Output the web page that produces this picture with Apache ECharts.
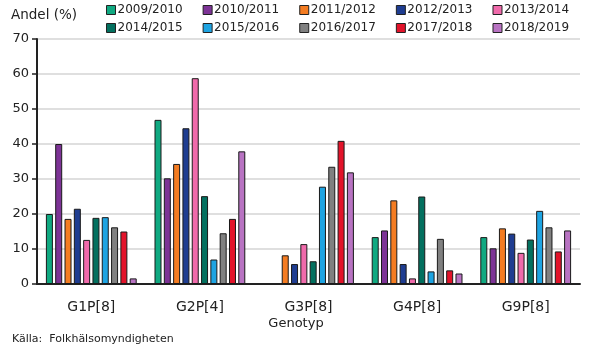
<!DOCTYPE html>
<html><head><meta charset="utf-8">
<script src="https://cdn.jsdelivr.net/npm/echarts@6/dist/echarts.min.js"></script>
<style>html,body{margin:0;padding:0;background:#fff}#c{width:590px;height:352px}</style>
</head><body><div id="c"></div>
<script>
const categories = ['G1P[8]','G2P[4]','G3P[8]','G4P[8]','G9P[8]'];
const seasons = ['2009/2010','2010/2011','2011/2012','2012/2013','2013/2014','2014/2015','2015/2016','2016/2017','2017/2018','2018/2019'];
const s2009 = [20, 46.9, null, 13.4, 13.4];
const s2010 = [40, 30.2, null, 15.3, 10.2];
const s2011 = [18.6, 34.3, 8.2, 23.9, 15.9];
const s2012 = [21.5, 44.5, 5.7, 5.7, 14.4];
const s2013 = [12.6, 58.8, 11.4, 1.6, 8.9];
const s2014 = [18.9, 25.1, 6.5, 25.0, 12.7];
const s2015 = [19.1, 7.0, 27.8, 3.6, 20.9];
const s2016 = [16.2, 14.5, 33.5, 12.9, 16.2];
const s2017 = [15.0, 18.6, 40.9, 3.9, 9.3];
const s2018 = [1.6, 37.9, 31.9, 3.0, 15.3];
const seriesValues = [s2009,s2010,s2011,s2012,s2013,s2014,s2015,s2016,s2017,s2018];
const colors = ['#10a981','#7d3396','#f47c22','#1f3d91','#f06aab','#03705f','#1ea4e2','#808080','#e2132a','#b873c2'];
const yTicks = [0,10,20,30,40,50,60,70];

const font = 'DejaVu Sans';
const legendBase = {
  itemWidth: 9, itemHeight: 9, itemGap: 20, icon: 'rect',
  padding: 0,
  itemStyle: {borderColor: '#222', borderWidth: 1},
  textStyle: {fontFamily: font, fontSize: 12, color: '#222', padding: [0,0,0,-3]}
};
const chart = echarts.init(document.getElementById('c'));
chart.setOption({
  animation: false,
  textStyle: {fontFamily: font},
  legend: [
    Object.assign({data: seasons.slice(0,5), left: 106, top: 4}, legendBase),
    Object.assign({data: seasons.slice(5), left: 106, top: 22}, legendBase)
  ],
  grid: {left: 37, right: 10, top: 39, bottom: 68},
  xAxis: {
    type: 'category', data: categories,
    axisLine: {lineStyle: {color: '#222', width: 2}},
    axisTick: {show: false},
    axisLabel: {fontFamily: font, fontSize: 14, color: '#222', margin: 16}
  },
  yAxis: {
    type: 'value', min: yTicks[0], max: yTicks[yTicks.length-1], interval: 10,
    axisLine: {show: true, lineStyle: {color: '#222', width: 2}},
    axisTick: {show: true, inside: false, length: 5, lineStyle: {color: '#222', width: 1.5}},
    axisLabel: {fontFamily: font, fontSize: 13, color: '#222', margin: 8},
    splitLine: {lineStyle: {color: '#d4d4d4', width: 1.5}}
  },
  graphic: [
    {type: 'text', left: 11, top: 8, style: {text: 'Andel (%)', font: '13.5px "DejaVu Sans"', fill: '#222'}},
    {type: 'text', x: 296, y: 324, style: {text: 'Genotyp', font: '13px "DejaVu Sans"', fill: '#222', align: 'center', verticalAlign: 'middle'}},
    {type: 'text', left: 12, top: 334, style: {text: 'Källa:  Folkhälsomyndigheten', font: '11px "DejaVu Sans"', fill: '#222'}}
  ],
  series: seasons.map((s, i) => ({
    name: s, type: 'bar', data: seriesValues[i],
    barWidth: 7, barGap: '33%',
    itemStyle: {color: colors[i], borderColor: '#1a1a1a', borderWidth: 1}
  }))
});
</script></body></html>
